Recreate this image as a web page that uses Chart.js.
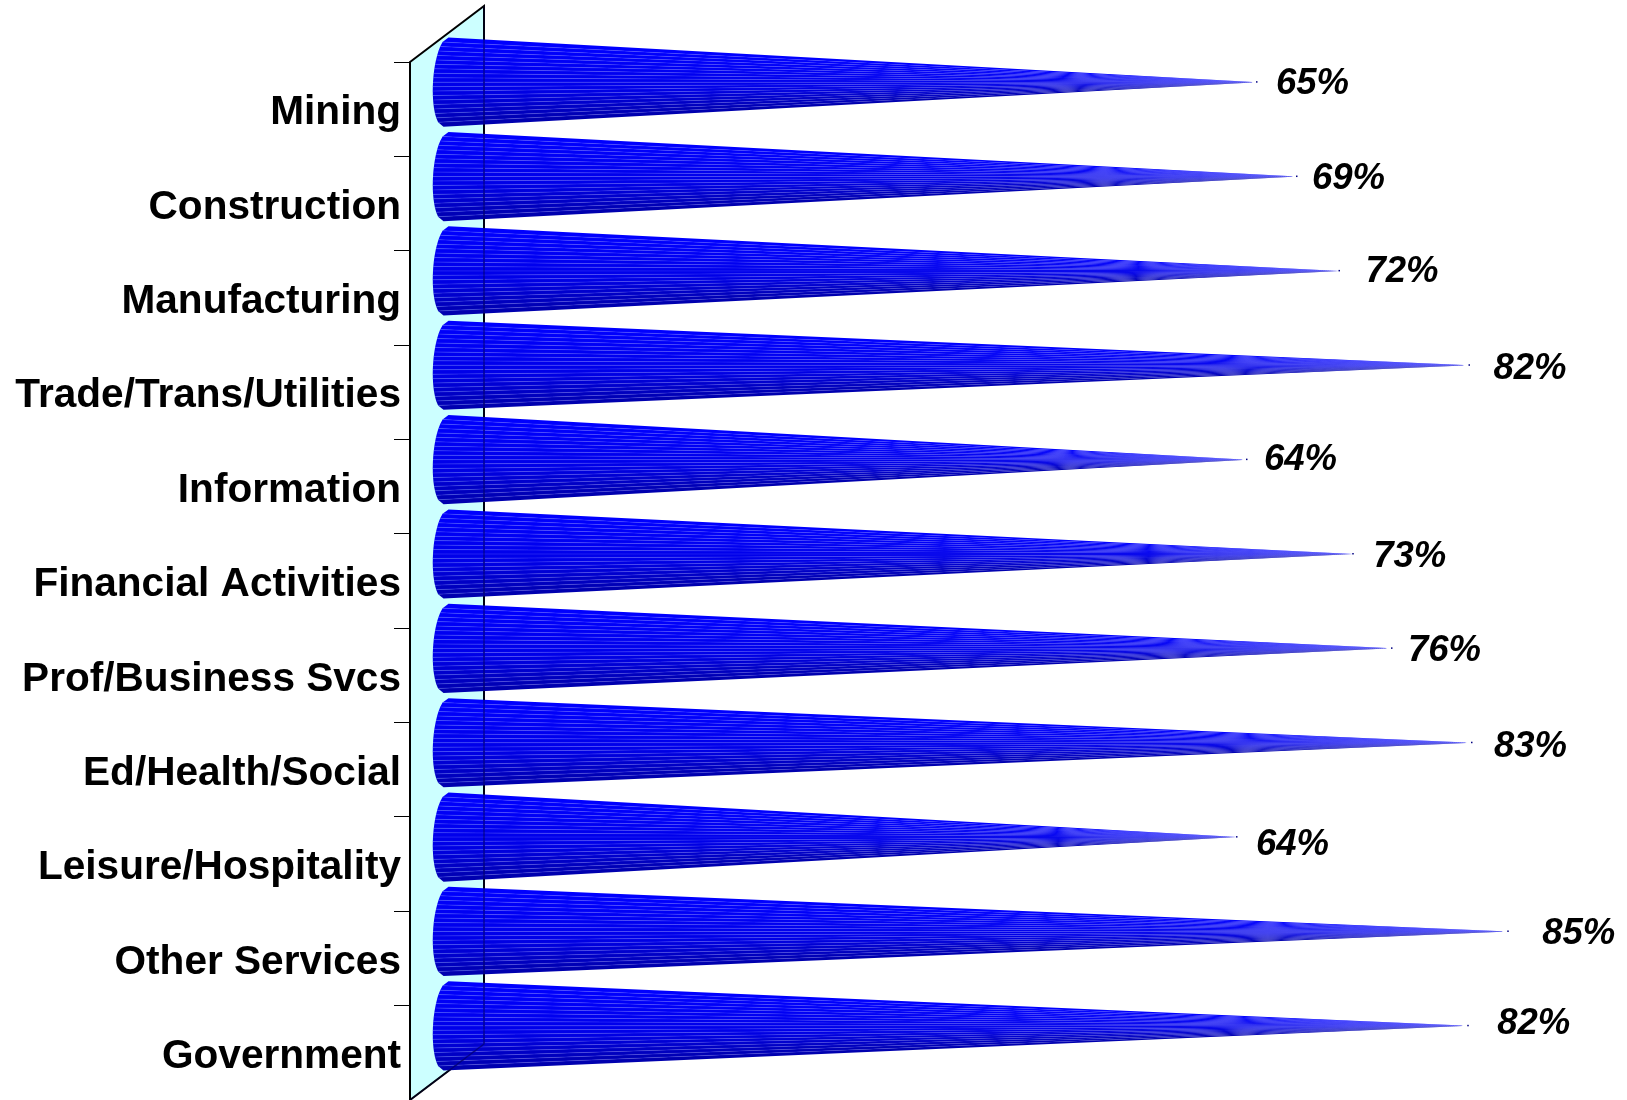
<!DOCTYPE html>
<html>
<head>
<meta charset="utf-8">
<style>
  html, body { margin: 0; padding: 0; background: #fff; }
  canvas { display: block; }
</style>
</head>
<body>
<canvas id="coneChart" width="1627" height="1100"></canvas>
<script src="https://cdn.jsdelivr.net/npm/chart.js@4/dist/chart.umd.js"></script>
<script>
// Data
const categories = ['Mining', 'Construction', 'Manufacturing', 'Trade/Trans/Utilities', 'Information',
    'Financial Activities', 'Prof/Business Svcs', 'Ed/Health/Social', 'Leisure/Hospitality', 'Other Services', 'Government'];
const barValues = [64.8, 68, 71.4, 81.8, 64, 72.5, 75.6, 82, 63.2, 84.9, 81.7];
const valueLabels = ['65%', '69%', '72%', '82%', '64%', '73%', '76%', '83%', '64%', '85%', '82%'];

// Labels were placed by hand in the original, so each has its own nudge
const labelNudgeX = [19, 15, 26, 24, 17, 20, 16, 22, 19, 34, 29];
const labelNudgeY = [2, 2, 1, 4, 0, 3, 3, 4, 8, 2, -2];

// 3D look
const depthX = 74;
const depthY = 54;
const facets = 20;

function drawCone(ctx, tipX, baseX, cy, r) {
    const rx = 13;
    const slant = 2.5;
    const px = s => baseX - rx * Math.sqrt(1 - s * s) - slant * s;
    for (let i = 0; i < facets; i++) {
        const s0 = -1 + 2 * i / facets;
        const s1 = -1 + 2 * (i + 1) / facets;
        const t = (i + 0.5) / facets;
        const blue = t < 0.6 ? 255 - t * 40 : 231 - (t - 0.6) * 150;
        ctx.beginPath();
        ctx.moveTo(tipX, cy);
        ctx.lineTo(px(s0), cy + r * s0);
        ctx.lineTo(px(s1), cy + r * s1);
        ctx.closePath();
        ctx.fillStyle = `rgb(0,0,${Math.round(blue)})`;
        ctx.fill();
    }
    // lighter seams between the facets, they fade out towards the tip
    const seam = ctx.createLinearGradient(baseX, 0, tipX, 0);
    seam.addColorStop(0, 'rgba(110,110,255,0.5)');
    seam.addColorStop(0.7, 'rgba(110,110,255,0.2)');
    seam.addColorStop(1, 'rgba(110,110,255,0)');
    ctx.strokeStyle = seam;
    ctx.lineWidth = 0.6;
    for (let i = 1; i < facets; i++) {
        const s = -1 + 2 * i / facets;
        ctx.beginPath();
        ctx.moveTo(tipX, cy);
        ctx.lineTo(px(s), cy + r * s);
        ctx.stroke();
    }
    // small dark point right at the tip
    ctx.fillStyle = '#000080';
    ctx.fillRect(tipX - 1, cy - 1, 1.5, 1.5);
}

const wallPlugin = {
    id: 'wall',
    beforeDatasetsDraw(chart) {
        const { ctx, chartArea: a } = chart;
        ctx.save();
        ctx.beginPath();
        ctx.moveTo(a.left, a.top);
        ctx.lineTo(a.left + depthX, a.top - 56);
        ctx.lineTo(a.left + depthX, a.bottom - 56);
        ctx.lineTo(a.left, a.bottom);
        ctx.closePath();
        ctx.fillStyle = '#CCFFFF';
        ctx.fill();
        ctx.strokeStyle = '#000';
        ctx.lineWidth = 2;
        ctx.stroke();
        ctx.restore();
    }
};

const conePlugin = {
    id: 'cones',
    afterDatasetsDraw(chart) {
        const { ctx, chartArea: a } = chart;
        const bars = chart.getDatasetMeta(0).data;
        ctx.save();
        bars.forEach((bar, i) => {
            drawCone(ctx, bar.x + depthX / 2, bar.base + depthX / 2 - 1, bar.y - depthY / 2, bar.height / 2);
        });

        // wall edges still show faintly through the cones
        ctx.strokeStyle = 'rgba(0,0,60,0.45)';
        ctx.lineWidth = 1.5;
        ctx.beginPath();
        ctx.moveTo(a.left + depthX, a.top - 56);
        ctx.lineTo(a.left + depthX, a.bottom - 56);
        ctx.lineTo(a.left, a.bottom);
        ctx.stroke();

        ctx.fillStyle = '#000';
        ctx.font = 'italic bold 36.5px "Liberation Sans", Arial, sans-serif';
        ctx.textAlign = 'left';
        ctx.textBaseline = 'middle';
        bars.forEach((bar, i) => {
            ctx.fillText(valueLabels[i], bar.x + depthX / 2 + labelNudgeX[i], bar.y - depthY / 2 + labelNudgeY[i]);
        });
        ctx.restore();
    }
};

new Chart(document.getElementById('coneChart'), {
    type: 'bar',
    data: {
        labels: categories,
        datasets: [{
            data: barValues,
            backgroundColor: 'rgba(0,0,0,0)',
            categoryPercentage: 1,
            barPercentage: 0.945
        }]
    },
    options: {
        indexAxis: 'y',
        responsive: false,
        animation: false,
        devicePixelRatio: 1,
        layout: { autoPadding: false, padding: { top: 62, right: 0, bottom: 0, left: 0 } },
        plugins: { legend: { display: false }, tooltip: { enabled: false } },
        scales: {
            x: { display: false, min: 0, max: 97.36 },
            y: {
                // labels may hang past the plot, the wall has to reach the canvas bottom
                afterFit: scale => {
                    scale.width = 410;
                    scale.paddingTop = 0;
                    scale.paddingBottom = 0;
                },
                border: { display: false },
                grid: { offset: true, drawOnChartArea: false, drawTicks: true, tickLength: 16, color: '#000', lineWidth: 1 },
                ticks: {
                    color: '#000',
                    padding: -7,
                    labelOffset: 4,
                    autoSkip: false,
                    font: { family: '"Liberation Sans", Arial, sans-serif', size: 40.6, weight: 'bold' }
                }
            }
        }
    },
    plugins: [wallPlugin, conePlugin]
});
</script>
</body>
</html>
